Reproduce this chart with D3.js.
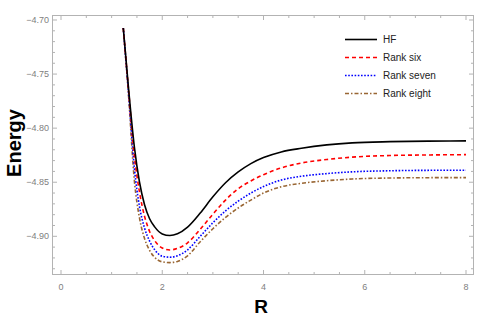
<!DOCTYPE html>
<html>
<head>
<meta charset="utf-8">
<script src="https://cdn.jsdelivr.net/npm/d3@7"></script>
<style>
  body { margin: 0; background: #fff; }
  svg { display: block; font-family: "Liberation Sans", Arial, sans-serif; }
</style>
</head>
<body>
<svg id="chart" width="491" height="321"></svg>
<script>
// bond length grid
var rValues = [1.23, 1.33, 1.45, 1.55, 1.65, 1.75, 1.85, 2.0, 2.15, 2.3, 2.5, 2.75, 3.0, 3.25, 3.5, 3.75, 4.0, 4.35, 4.75, 5.25, 5.75, 6.5, 7.25, 8.0];

var hfEnergy = [-4.7074, -4.7614, -4.8178, -4.8498, -4.8708, -4.8838, -4.8913, -4.8978, -4.8993, -4.8977, -4.8915, -4.8785, -4.8635, -4.8505, -4.8405, -4.8328, -4.8272, -4.8220, -4.8186, -4.8155, -4.8136, -4.8125, -4.8120, -4.8118];
var rankSixEnergy = [-4.7074, -4.7624, -4.8260, -4.8590, -4.8815, -4.8955, -4.9040, -4.9108, -4.9126, -4.9112, -4.9060, -4.8935, -4.8795, -4.8665, -4.8560, -4.8488, -4.8430, -4.8368, -4.8322, -4.8290, -4.8268, -4.8253, -4.8248, -4.8245];
var rankSevenEnergy = [-4.7074, -4.7654, -4.8374, -4.8724, -4.8924, -4.9044, -4.9124, -4.9184, -4.9193, -4.9180, -4.9125, -4.9000, -4.8875, -4.8765, -4.8675, -4.8600, -4.8540, -4.8480, -4.8445, -4.8420, -4.8404, -4.8394, -4.8390, -4.8389];
var rankEightEnergy = [-4.7074, -4.7674, -4.8490, -4.8830, -4.9020, -4.9130, -4.9195, -4.9236, -4.9243, -4.9232, -4.9180, -4.9050, -4.8930, -4.8825, -4.8738, -4.8665, -4.8600, -4.8542, -4.8510, -4.8486, -4.8470, -4.8461, -4.8458, -4.8457];

var seriesNames = ["HF", "Rank six", "Rank seven", "Rank eight"];
var xTicks = [0, 2, 4, 6, 8];
var yTicks = [-4.70, -4.75, -4.80, -4.85, -4.90];

var seriesStyle = [
  {color: "#000000", dash: null},
  {color: "#ff0000", dash: "4,3"},
  {color: "#0000ff", dash: "1.6,1.6"},
  {color: "#996633", dash: "4,2,1.5,2"}
];

var series = [hfEnergy, rankSixEnergy, rankSevenEnergy, rankEightEnergy].map(function(vals, i) {
  return {name: seriesNames[i], style: seriesStyle[i],
          points: vals.map(function(e, j) { return {r: rValues[j], e: e}; })};
});

var margin = {top: 15, right: 17, bottom: 46, left: 52};
var width = 491, height = 321;
var svg = d3.select("#chart");

var x = d3.scaleLinear().domain([-0.178, 8.158]).range([margin.left, width - margin.right]);
var y = d3.scaleLinear().domain([-4.93578, -4.69538]).range([height - margin.bottom, margin.top]);

var frameColor = "#b3b3b3";
var labelColor = "#808080";
var fmt = d3.format(".2f");

// minor ticks
var xMinor = d3.range(0, 8.01, 0.5).filter(function(v) { return xTicks.indexOf(v) < 0; });
var yMinor = d3.range(-4.93, -4.695, 0.01).map(function(v) { return +v.toFixed(2); })
  .filter(function(v) { return yTicks.indexOf(v) < 0; });

var g = svg.append("g");

g.selectAll(".xlab").data(xTicks).enter().append("text")
  .attr("x", function(d) { return x(d); })
  .attr("y", height - margin.bottom + 15)
  .attr("text-anchor", "middle")
  .attr("font-size", 9)
  .attr("fill", labelColor)
  .text(function(d) { return d; });

g.selectAll(".ylab").data(yTicks).enter().append("text")
  .attr("x", margin.left - 3)
  .attr("y", function(d) { return y(d) + 3; })
  .attr("text-anchor", "end")
  .attr("font-size", 9)
  .attr("fill", labelColor)
  .text(function(d) { return fmt(d); });

function drawTicks(vals, len) {
  vals.forEach(function(v) {
    // bottom & top
    g.append("line").attr("x1", x(v)).attr("x2", x(v))
      .attr("y1", y.range()[0]).attr("y2", y.range()[0] - len)
      .attr("stroke", frameColor);
    g.append("line").attr("x1", x(v)).attr("x2", x(v))
      .attr("y1", y.range()[1]).attr("y2", y.range()[1] + len)
      .attr("stroke", frameColor);
  });
}
function drawYTicks(vals, len) {
  vals.forEach(function(v) {
    g.append("line").attr("y1", y(v)).attr("y2", y(v))
      .attr("x1", x.range()[0]).attr("x2", x.range()[0] + len)
      .attr("stroke", frameColor);
    g.append("line").attr("y1", y(v)).attr("y2", y(v))
      .attr("x1", x.range()[1]).attr("x2", x.range()[1] - len)
      .attr("stroke", frameColor);
  });
}
drawTicks(xTicks, 5);
drawTicks(xMinor, 3);
drawYTicks(yTicks, 5);
drawYTicks(yMinor, 3);

g.append("rect")
  .attr("x", margin.left + 0.5).attr("y", margin.top + 0.5)
  .attr("width", width - margin.left - margin.right - 1)
  .attr("height", height - margin.top - margin.bottom - 1)
  .attr("fill", "none").attr("stroke", frameColor).attr("stroke-width", 1);

var line = d3.line()
  .x(function(d) { return x(d.r); })
  .y(function(d) { return y(d.e); })
  .curve(d3.curveMonotoneX);

// draw back to front so HF is on top
svg.append("g").selectAll("path").data(series.slice().reverse()).enter().append("path")
  .attr("d", function(d) { return line(d.points); })
  .attr("fill", "none")
  .attr("stroke", function(d) { return d.style.color; })
  .attr("stroke-width", 1.6)
  .attr("stroke-dasharray", function(d) { return d.style.dash; });

// legend
var legend = svg.append("g").attr("transform", "translate(345,39.5)");
var rows = legend.selectAll("g").data(series).enter().append("g")
  .attr("transform", function(d, i) { return "translate(0," + (i * 18) + ")"; });
rows.append("line")
  .attr("x1", 0).attr("x2", 32).attr("y1", 0).attr("y2", 0)
  .attr("stroke", function(d) { return d.style.color; })
  .attr("stroke-width", 1.6)
  .attr("stroke-dasharray", function(d) { return d.style.dash; });
rows.append("text")
  .attr("x", 38).attr("y", 3.5)
  .attr("font-size", 10)
  .attr("fill", "#222")
  .text(function(d) { return d.name; });

// axis titles
svg.append("text")
  .attr("x", (x.range()[0] + x.range()[1]) / 2 - 2)
  .attr("y", 313)
  .attr("text-anchor", "middle")
  .attr("font-size", 19).attr("font-weight", "bold")
  .text("R");

svg.append("text")
  .attr("transform", "translate(21,143) rotate(-90)")
  .attr("text-anchor", "middle")
  .attr("font-size", 20).attr("font-weight", "bold")
  .text("Energy");
</script>
</body>
</html>
